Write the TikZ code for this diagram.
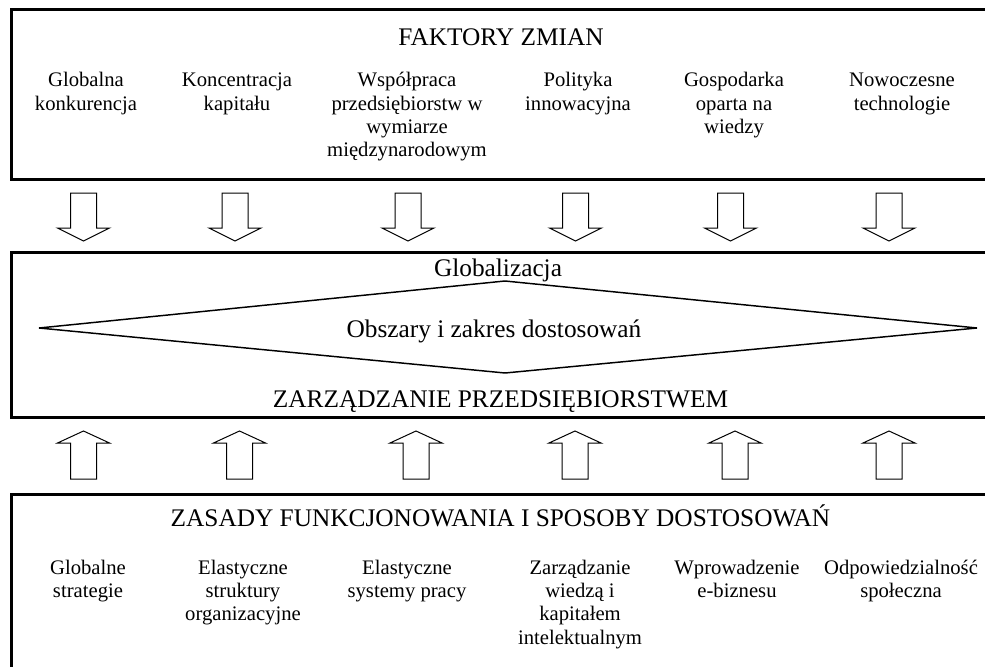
\documentclass[tikz,border=0pt]{standalone}
\usepackage{fontspec}
\setmainfont{Liberation Serif}

\newcommand\headfont{\fontsize{19}{22}\selectfont}
\newcommand\itemfont{\fontsize{15.5}{17.5}\selectfont}
\newcommand\itemlines[1]{\begin{tabular}[t]{@{}c@{}}#1\end{tabular}}

\begin{document}
\begin{tikzpicture}[x=0.75pt,y=-0.75pt,
  frame/.style={line width=2.25pt},
  rhomb/.style={line width=1.1pt, line join=miter},
  blockline/.style={line width=0.75pt, line join=miter},
  heading/.style={anchor=base, inner sep=0pt, font=\headfont},
  itemtext/.style={anchor=base, inner sep=0pt, font=\itemfont}]

\useasboundingbox (0,0) rectangle (985,667);
\clip (0,0) rectangle (985,667);

% three panels, open to the right (and the lowest one downwards)
\draw[frame] (11,10) rectangle (1000,179);
\draw[frame] (11,252) rectangle (1000,417);
\draw[frame] (11,494) rectangle (1000,720);

% factors of change
\node[heading] (factors) at (501,46) {FAKTORY ZMIAN};
\node[itemtext] (f1) at (86,87)  {\itemlines{Globalna\\konkurencja}};
\node[itemtext] (f2) at (237,87) {\itemlines{Koncentracja\\kapitału}};
\node[itemtext] (f3) at (407,87) {\itemlines{Współpraca\\przedsiębiorstw w\\wymiarze\\międzynarodowym}};
\node[itemtext] (f4) at (578,87) {\itemlines{Polityka\\innowacyjna}};
\node[itemtext] (f5) at (734,87) {\itemlines{Gospodarka\\oparta na\\wiedzy}};
\node[itemtext] (f6) at (902,87) {\itemlines{Nowoczesne\\technologie}};

% downward block arrows (outline only)
\foreach \i/\x in {1/83.5,2/235,3/408,4/575.5,5/730.5,6/889}{
  \coordinate (down\i) at (\x,217);
  \draw[blockline] (down\i) ++(-13,-24) -- ++(0,35) -- ++(-13,0) -- ++(26,13)
    -- ++(26,-13) -- ++(-13,0) -- ++(0,-35) -- cycle;
}

% middle panel with the diamond
\draw[rhomb] (39,328) -- (505,281) -- (977,328) -- (505,373) -- cycle;
\node[heading] (glob) at (498,276) {Globalizacja};
\node[heading] (areas) at (494,337) {Obszary i zakres dostosowań};
\node[heading] (mgmt) at (500.5,407) {ZARZĄDZANIE PRZEDSIĘBIORSTWEM};

% upward block arrows (outline only)
\foreach \i/\x in {1/83.5,2/239.5,3/416,4/575,5/735,6/889}{
  \coordinate (up\i) at (\x,455);
  \draw[blockline] (up\i) ++(-13,24) -- ++(0,-36) -- ++(-13,0) -- ++(26,-12)
    -- ++(26,12) -- ++(-13,0) -- ++(0,36) -- cycle;
}

% principles and ways of adaptation
\node[heading] (rules) at (500.5,526) {ZASADY FUNKCJONOWANIA I SPOSOBY DOSTOSOWAŃ};
\node[itemtext] (r1) at (88,574)  {\itemlines{Globalne\\strategie}};
\node[itemtext] (r2) at (243,574) {\itemlines{Elastyczne\\struktury\\organizacyjne}};
\node[itemtext] (r3) at (407,574) {\itemlines{Elastyczne\\systemy pracy}};
\node[itemtext] (r4) at (580,574) {\itemlines{Zarządzanie\\wiedzą i\\kapitałem\\intelektualnym}};
\node[itemtext] (r5) at (737,574) {\itemlines{Wprowadzenie\\e-biznesu}};
\node[itemtext] (r6) at (901,574) {\itemlines{Odpowiedzialność\\społeczna}};
\end{tikzpicture}
\end{document}
